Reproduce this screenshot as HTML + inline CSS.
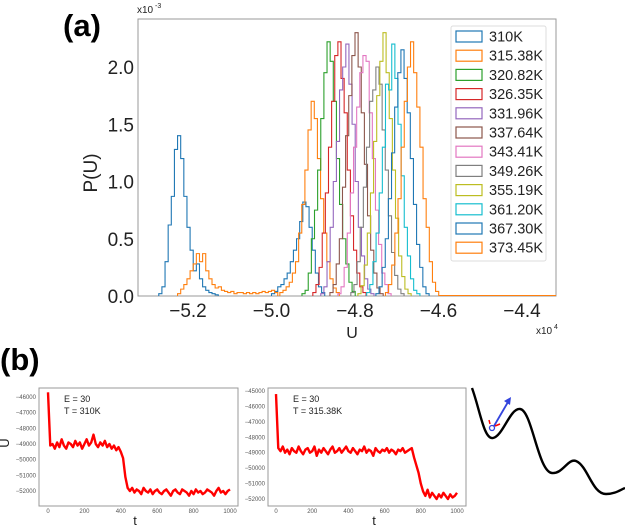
<!DOCTYPE html>
<html><head><meta charset="utf-8"><style>
body{margin:0;background:#fff;}
svg{display:block;font-family:"Liberation Sans","DejaVu Sans",sans-serif;}
</style></head><body>
<svg id="fig" width="625" height="528" viewBox="0 0 625 528">
<text x="63" y="36" font-size="31" font-weight="bold">(a)</text>
<text x="0" y="370" font-size="31" font-weight="bold">(b)</text>
<g id="histAxes"></g>
<g id="ts1"></g>
<g id="ts2"></g>
<g>
<path d="M472,388 C480,410 484,440 493,438 C503,436 510,408 520,409 C532,410 538,472 552,473 C563,474 568,458 576,461 C588,466 592,494 606,494 C615,494 620,490 625,488" fill="none" stroke="#000" stroke-width="2.4"/>
<line x1="494" y1="426" x2="508" y2="402" stroke="#3344dd" stroke-width="1.8"/>
<polygon points="511,397 510,405 504,401" fill="#3344dd"/>
<circle cx="492" cy="428" r="2.5" fill="none" stroke="#3344dd" stroke-width="1.3"/>
<line x1="489" y1="420" x2="490" y2="424" stroke="red" stroke-width="1.5"/>
<line x1="495" y1="426" x2="500" y2="424" stroke="red" stroke-width="1.5"/>
</g>
</svg>
<script>
const NS="http://www.w3.org/2000/svg";
// ---------- histogram data (U in x10^4, P in x10^-3) ----------
const binWidth=0.0075;
const seriesLabels=["310K","315.38K","320.82K","326.35K","331.96K","337.64K","343.41K","349.26K","355.19K","361.20K","367.30K","373.45K"];
const seriesColors=["#1f77b4","#ff7f0e","#2ca02c","#d62728","#9467bd","#8c564b","#e377c2","#7f7f7f","#bcbd22","#17becf","#1f77b4","#ff7f0e"];
const seriesStarts=[[-5.27,-5.0],[-5.225,-4.98],[-4.927],[-4.901],[-4.882],[-4.86],[-4.841],[-4.81],[-4.793],[-4.772],[-4.75],[-4.727]];
const s310a=[0.02,0.08,0.3,0.62,0.87,1.28,1.40,1.2,0.87,0.6,0.4,0.22,0.28,0.15,0.08,0.05,0.03,0.02,0.01];
const s310b=[0.02,0.04,0.08,0.1,0.15,0.2,0.3,0.4,0.5,0.65,0.82,0.78,0.6,0.4,0.2,0.08,0.03];
const s315a=[0.02,0.06,0.1,0.15,0.22,0.28,0.37,0.3,0.37,0.22,0.15,0.1,0.07,0.08,0.05,0.04,0.03,0.04,0.02,0.03,0.03,0.02,0.03,0.02,0.03,0.02,0.03,0.04,0.03,0.04,0.05,0.03];
const s315b=[0.03,0.05,0.08,0.12,0.2,0.3,0.55,0.8,1.1,1.45,1.7,1.55,1.2,0.85,0.55,0.3,0.15,0.07,0.03];
const s320=[0.02,0.05,0.2,0.5,0.75,1.1,1.55,1.95,2.22,2.05,1.7,1.2,0.8,0.5,0.28,0.12,0.04];
const s326=[0.03,0.1,0.25,0.55,0.9,1.3,1.7,2.1,2.22,1.9,1.6,1.1,0.7,0.4,0.2,0.08,0.03];
const s331=[0.02,0.08,0.3,0.6,1.0,1.35,1.8,2.0,2.2,1.85,1.5,1.0,0.6,0.35,0.15,0.06,0.02];
const s337=[0.03,0.1,0.28,0.5,0.95,1.4,1.75,2.1,2.3,2.0,1.6,1.15,0.7,0.4,0.2,0.07,0.02];
const s343=[0.02,0.08,0.25,0.55,0.9,1.3,1.65,1.95,2.1,2.05,1.6,1.2,0.75,0.45,0.2,0.1,0.02];
const s349=[0.03,0.1,0.3,0.6,0.95,1.3,1.7,1.8,2.0,1.85,1.45,1.1,0.7,0.38,0.18,0.06,0.02];
const s355=[0.02,0.09,0.27,0.55,0.9,1.35,1.75,2.05,2.3,1.95,1.55,1.1,0.68,0.35,0.17,0.06,0.02];
const s361=[0.03,0.1,0.3,0.55,0.9,1.3,1.85,1.8,2.2,1.9,1.5,1.05,0.6,0.35,0.15,0.05,0.02];
const s367=[0.02,0.08,0.25,0.5,0.85,1.25,1.65,1.95,2.15,1.9,1.6,1.2,0.8,0.45,0.25,0.08,0.02];
const s373=[0.03,0.1,0.27,0.55,0.85,1.3,1.7,2.0,2.22,1.95,1.65,1.3,0.85,0.6,0.3,0.12,0.04];
const seriesValues=[[s310a,s310b],[s315a,s315b],[s320],[s326],[s331],[s337],[s343],[s349],[s355],[s361],[s367],[s373]];
const histXTicks=[-5.2,-5.0,-4.8,-4.6,-4.4];
const histXTickLabels=["\u22125.2","\u22125.0","\u22124.8","\u22124.6","\u22124.4"];
const histYTicks=[0,0.5,1.0,1.5,2.0];
const histYTickLabels=["0.0","0.5","1.0","1.5","2.0"];

// ---------- time series data ----------
const ts1Values=[-45700,-49100,-49000,-49300,-48900,-49200,-48700,-49100,-49300,-48900,-49000,-49200,-48800,-49100,-48900,-49300,-49000,-48700,-49100,-48900,-48400,-49000,-49200,-48900,-49100,-48800,-49200,-49000,-49300,-49100,-49400,-49200,-49500,-49900,-51100,-51800,-52000,-51800,-52100,-51900,-52000,-52200,-51800,-52000,-52100,-51900,-52200,-52000,-51900,-52100,-52200,-52000,-51900,-52100,-52300,-52000,-51900,-52100,-52200,-51900,-52000,-52100,-52300,-52000,-52200,-51900,-52100,-52000,-52200,-52100,-51900,-52000,-52100,-52300,-52000,-51800,-52100,-52000,-52200,-52000,-51900];
const ts2Values=[-45200,-48700,-48900,-48600,-49000,-48800,-49100,-48700,-48900,-49000,-48600,-48900,-49100,-48800,-48700,-49000,-48900,-48600,-49200,-48800,-49000,-48700,-48900,-49100,-48800,-48600,-49000,-48900,-48700,-49000,-48800,-48600,-48900,-49000,-48700,-48900,-49100,-48800,-48900,-48600,-49000,-48800,-48900,-49200,-48700,-48900,-49000,-48800,-48900,-48700,-49000,-48800,-48900,-49100,-48800,-48900,-48700,-49000,-48900,-48800,-48700,-49300,-49800,-50300,-51000,-51500,-51800,-51400,-51900,-51600,-51800,-52000,-51700,-51900,-51600,-51800,-52000,-51700,-51900,-51800,-51600];
const ts1YTicks=[-46000,-47000,-48000,-49000,-50000,-51000,-52000];
const ts2YTicks=[-45000,-46000,-47000,-48000,-49000,-50000,-51000,-52000];
const tsXTicks=[0,200,400,600,800,1000];

function el(tag,attrs,parent,text){const e=document.createElementNS(NS,tag);for(const k in attrs)e.setAttribute(k,attrs[k]);if(text!==undefined)e.textContent=text;parent.appendChild(e);return e;}

// ---------- histogram ----------
(function(){
const g=document.getElementById('histAxes');
const L=138,R=556,T=19,B=296;
const xS=u=>188+(u+5.2)/0.2*83.5;
const yS=p=>296-p*114.5;
const box=el('rect',{x:L,y:T,width:R-L,height:B-T,fill:'none',stroke:'#999','stroke-width':1},g);


seriesValues.forEach((segs,si)=>{
  segs.forEach((vals,k)=>{
    let x0=seriesStarts[si][k];
    let d='M'+xS(x0).toFixed(2)+','+yS(0);
    vals.forEach((v,i)=>{const xa=xS(x0+i*binWidth),xb=xS(x0+(i+1)*binWidth);d+=' L'+xa.toFixed(2)+','+yS(v).toFixed(2)+' L'+xb.toFixed(2)+','+yS(v).toFixed(2);});
    d+=' L'+xS(x0+vals.length*binWidth).toFixed(2)+','+yS(0);
    const p=el('path',{d:d,fill:'none',stroke:seriesColors[si],'stroke-width':1.1},g);
    
    
  });
});
const base=el('line',{x1:xS(-4.6),y1:B-0.5,x2:R,y2:B-0.5,stroke:'#ff7f0e','stroke-width':1},g);


histXTicks.forEach((t,i)=>{
  const tx=el('text',{x:xS(t),y:317,'font-size':19,'text-anchor':'middle',fill:'#222'},g,histXTickLabels[i]);
  
  
});
histYTicks.forEach((t,i)=>{
  const tx=el('text',{x:134,y:yS(t)+7,'font-size':19,'text-anchor':'end',fill:'#222'},g,histYTickLabels[i]);
  
  
});
const yl=el('text',{x:0,y:0,'font-size':19,'text-anchor':'middle',fill:'#222',transform:'translate(97,173) rotate(-90)'},g,'P(U)');


const xl=el('text',{x:352,y:338,'font-size':16,'text-anchor':'middle',fill:'#222'},g,'U');


const ym=el('text',{x:137,y:13,'font-size':10,fill:'#222'},g,'x10');


const ye=el('text',{x:155,y:8,'font-size':7,fill:'#222'},g,'-3');


const xm=el('text',{x:536,y:334,'font-size':10,fill:'#222'},g,'x10');


const xe=el('text',{x:554,y:329,'font-size':7,fill:'#222'},g,'4');


const lg=el('rect',{x:451,y:26,width:95,height:235,rx:2,fill:'#fff',stroke:'#ddd','stroke-width':1},g);


seriesLabels.forEach((s,i)=>{
  const y=36+i*19.2;
  const r=el('rect',{x:456,y:y-5,width:26,height:11,fill:'none',stroke:seriesColors[i],'stroke-width':1.2},g);
  
  
  const t=el('text',{x:489,y:y+5.5,'font-size':14.5,fill:'#222'},g,s);
  
  
});
})();

// ---------- time series ----------
function drawTS(id,vals,yticks,L,R,T,B,x0px,x1px,yTopVal,yTopPx,yBotVal,yBotPx,tX,label,showU){
  const g=document.getElementById(id);
  const xS=t=>x0px+t/1000*(x1px-x0px);
  const yS=v=>yTopPx+(v-yTopVal)/(yBotVal-yTopVal)*(yBotPx-yTopPx);
  const f=el('rect',{x:L,y:T,width:R-L,height:B-T,fill:'none',stroke:'#999','stroke-width':1},g);
  
  
  let d='';
  vals.forEach((v,i)=>{const t=i*1000/(vals.length-1);d+=(i?' L':'M')+xS(t).toFixed(2)+','+yS(v).toFixed(2);});
  const p=el('path',{d:d,fill:'none',stroke:'#ff0000','stroke-width':2.4,'stroke-linejoin':'round'},g);
  
  
  yticks.forEach(v=>{
    const t=el('text',{x:L-3,y:yS(v)+2,'font-size':6,'text-anchor':'end',fill:'#555'},g,'\u2212'+Math.abs(v));
    
    
  });
  tsXTicks.forEach(v=>{
    const t=el('text',{x:xS(v),y:B+7,'font-size':6,'text-anchor':'middle',fill:'#555'},g,String(v));
    
    
  });
  const tl=el('text',{x:tX,y:525,'font-size':13,'text-anchor':'middle',fill:'#222'},g,'t');
  
  
  const e1=el('text',{x:L+25,y:T+14,'font-size':9,fill:'#222'},g,'E = 30');
  
  
  const e2=el('text',{x:L+25,y:T+26,'font-size':9,fill:'#222'},g,label);
  
  
  if(showU){
    const u=el('text',{x:0,y:0,'font-size':13,'text-anchor':'middle',fill:'#222',transform:'translate(9,443) rotate(-90)'},g,'U');
    
    
  }
}
drawTS('ts1',ts1Values,ts1YTicks,39,238,388,506,48,230,-46000,397,-52000,491,135,'T = 310K',true);
drawTS('ts2',ts2Values,ts2YTicks,268,466,388,506,276,457,-45000,391,-52000,499,374,'T = 315.38K',false);
</script>
</body></html>
